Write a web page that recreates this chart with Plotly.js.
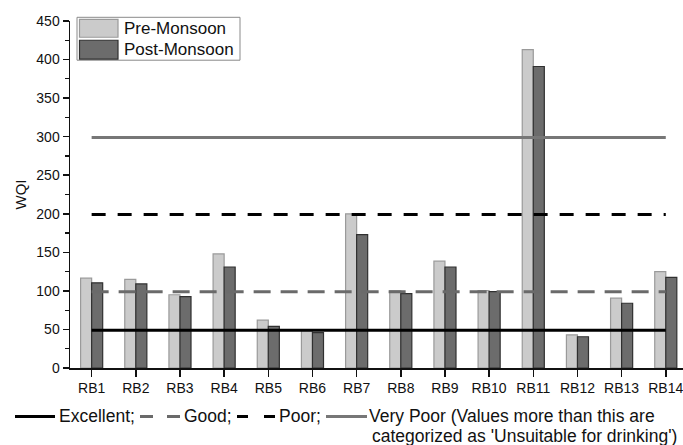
<!DOCTYPE html>
<html>
<head>
<meta charset="utf-8">
<script src="https://cdn.plot.ly/plotly-3.0.1.min.js"></script>
<style>html,body{margin:0;padding:0;background:#fff;}#chart{width:683px;height:445px;}</style>
</head>
<body>
<div id="chart"></div>
<script>
// ---- data ----
const categories = ["RB1","RB2","RB3","RB4","RB5","RB6","RB7","RB8","RB9","RB10","RB11","RB12","RB13","RB14"];
const preMonsoon  = [116.5, 115, 95, 148, 62, 49, 200, 100, 138.5, 100.5, 413, 43, 90.5, 125];
const postMonsoon = [110.5, 109, 92.5, 131, 54, 46, 173, 96.5, 131, 99, 391, 40.5, 84, 117.5];
const thresholdNames  = ["Excellent", "Good", "Poor", "Very Poor"];
const thresholdValues = [49, 99, 199, 299];
const legendLabels = ["Pre-Monsoon", "Post-Monsoon"];

// ---- geometry helpers (pixel -> paper) ----
const L = 70, R = 683, T = 20.7, B = 368.5, W = 683, H = 445;
const px = x => (x - L) / (R - L);
const py = y => (B - y) / (B - T);
const FONT = "Liberation Sans, Arial, sans-serif";

const preColor = "#cbcbcb", preLine = "#9a9a9a";
const postColor = "#6c6c6c", postLine = "#303030";

const thrStyles = [
  {color: "#000000", dash: "solid"},
  {color: "#6a6a6a", dash: "17px,10px"},
  {color: "#000000", dash: "14px,12px"},
  {color: "#777777", dash: "solid"}
];

const traces = [
  {type: "bar", name: legendLabels[0], x: categories, y: preMonsoon,
   marker: {color: preColor, line: {color: preLine, width: 1.2}}, showlegend: false},
  {type: "bar", name: legendLabels[1], x: categories, y: postMonsoon,
   marker: {color: postColor, line: {color: postLine, width: 1.2}}, showlegend: false}
];
thresholdValues.forEach((v, i) => {
  traces.push({type: "scatter", mode: "lines", name: thresholdNames[i],
    x: [categories[0], categories[categories.length - 1]], y: [v, v],
    line: {color: thrStyles[i].color, width: 3, dash: thrStyles[i].dash},
    showlegend: false, hoverinfo: "skip"});
});

// ---- custom legends ----
const shapes = [
  // top legend box
  {type: "rect", xref: "paper", yref: "paper", x0: px(77), x1: px(240), y0: py(60), y1: py(17),
   line: {color: "#8a8a8a", width: 1}, fillcolor: "#ffffff", layer: "above"},
  {type: "rect", xref: "paper", yref: "paper", x0: px(79.5), x1: px(118), y0: py(37), y1: py(19),
   line: {color: preLine, width: 1.2}, fillcolor: preColor, layer: "above"},
  {type: "rect", xref: "paper", yref: "paper", x0: px(79.5), x1: px(118), y0: py(59), y1: py(40),
   line: {color: postLine, width: 1.2}, fillcolor: postColor, layer: "above"},
  // bottom legend samples
  {type: "line", xref: "paper", yref: "paper", x0: px(15), x1: px(55), y0: py(417), y1: py(417),
   line: {color: thrStyles[0].color, width: 3}},
  {type: "line", xref: "paper", yref: "paper", x0: px(140), x1: px(180), y0: py(417), y1: py(417),
   line: {color: thrStyles[1].color, width: 3, dash: "13px,14px"}},
  {type: "line", xref: "paper", yref: "paper", x0: px(237), x1: px(275), y0: py(417), y1: py(417),
   line: {color: thrStyles[2].color, width: 3, dash: "11px,16px"}},
  {type: "line", xref: "paper", yref: "paper", x0: px(326), x1: px(367), y0: py(417), y1: py(417),
   line: {color: thrStyles[3].color, width: 3}}
];

const ann = (text, x, y, size) => ({text: text, xref: "paper", yref: "paper", x: px(x), y: py(y),
  xanchor: "left", yanchor: "middle", showarrow: false, font: {family: FONT, size: size, color: "#111"}});

const annotations = [
  ann(legendLabels[0], 122, 28.5, 17),
  ann(legendLabels[1], 122, 49.5, 17),
  ann(thresholdNames[0] + ";", 57, 417, 17.5),
  ann(thresholdNames[1] + ";", 182, 417, 17.5),
  ann(thresholdNames[2] + ";", 277, 417, 17.5),
  ann(thresholdNames[3] + " (Values more than this are", 367, 417, 17.5),
  ann("categorized as 'Unsuitable for drinking')", 370, 437, 17.5)
];

const layout = {
  width: W, height: H,
  margin: {l: L, r: W - R, t: T, b: H - B, pad: 0},
  paper_bgcolor: "#ffffff", plot_bgcolor: "#ffffff",
  barmode: "group", bargap: 0.5, bargroupgap: 0,
  font: {family: FONT, size: 14, color: "#111"},
  xaxis: {type: "category", range: [-0.49, 13.39], showgrid: false, zeroline: false,
    showline: true, linecolor: "#111", linewidth: 1.5,
    ticks: "outside", ticklen: 7, tickwidth: 1.5, tickcolor: "#111",
    tickfont: {family: FONT, size: 14, color: "#111"}},
  yaxis: {range: [0, 450], dtick: 50, showgrid: false, zeroline: false,
    showline: true, linecolor: "#111", linewidth: 1.5,
    ticks: "outside", ticklen: 6, tickwidth: 1.5, tickcolor: "#111",
    minor: {dtick: 25, ticks: "outside", ticklen: 4, tickwidth: 1.2, tickcolor: "#111"},
    tickfont: {family: FONT, size: 14, color: "#111"},
    title: {text: "WQI", font: {family: FONT, size: 15, color: "#111"}, standoff: 6}},
  shapes: shapes,
  annotations: annotations,
  showlegend: false
};

Plotly.newPlot("chart", traces, layout, {displayModeBar: false, staticPlot: true});
</script>
</body>
</html>
